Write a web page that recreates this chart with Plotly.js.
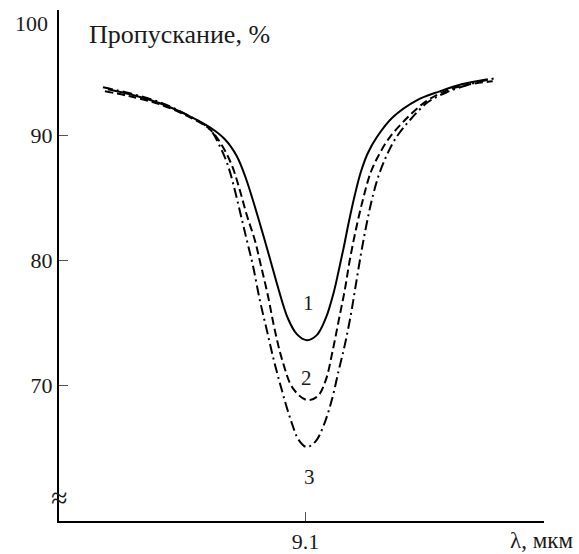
<!DOCTYPE html>
<html>
<head>
<meta charset="utf-8">
<script src="https://cdn.plot.ly/plotly-3.0.1.min.js"></script>
<style>html,body{margin:0;padding:0;background:#fff;}#chart{width:579px;height:554px;}</style>
</head>
<body>
<div id="chart"></div>
<script>
// Curve 1 (solid)
const x1 = [8.309,8.397,8.517,8.637,8.717,8.777,8.825,8.861,8.893,8.925,8.957,8.993,9.029,9.065,9.105,
            9.145,9.181,9.213,9.233,9.253,9.273,9.297,9.321,9.349,9.385,9.449,9.545,9.637,9.725,9.829];
const y1 = [93.68,93.28,92.56,91.52,90.64,89.68,88.32,86.56,84.56,82.4,80.16,77.6,75.36,74.08,73.6,
            74.0,75.36,77.44,79.2,81.04,83.04,85.2,87.04,88.56,89.84,91.44,92.8,93.52,94.08,94.48];
// Curve 2 (dashed)
const x2 = [8.297,8.397,8.517,8.637,8.717,8.765,8.805,8.837,8.865,8.897,8.921,8.949,8.977,9.009,9.049,9.105,
            9.149,9.181,9.209,9.233,9.257,9.277,9.301,9.329,9.361,9.397,9.437,9.497,9.577,9.657,9.757,9.849];
const y2 = [93.52,93.12,92.48,91.44,90.48,89.2,87.6,85.6,83.6,81.6,79.6,77.2,74.4,71.84,69.76,68.8,
            69.12,70.4,72.8,75.2,77.6,80.0,82.4,84.8,87.04,88.56,89.84,91.2,92.64,93.52,94.08,94.32];
// Curve 3 (dash-dot)
const x3 = [8.289,8.397,8.517,8.637,8.717,8.757,8.789,8.817,8.841,8.865,8.889,8.917,8.945,8.973,9.005,9.041,9.073,9.105,
            9.141,9.173,9.205,9.233,9.257,9.281,9.301,9.321,9.341,9.365,9.393,9.425,9.461,9.517,9.589,9.665,9.757,9.857];
const y3 = [93.84,93.36,92.64,91.52,90.48,89.12,87.6,85.6,83.6,81.6,79.6,76.8,74.4,72.0,69.6,67.2,65.6,65.04,
            65.52,66.8,68.8,71.2,73.2,75.6,78.0,80.4,82.56,84.8,86.8,88.4,89.76,91.2,92.64,93.44,94.08,94.56];

const curveLabels = ['1','2','3'];
const labelX = [9.113, 9.105, 9.117];
const labelY = [76.56, 70.56, 62.64];

const xTickVals = [9.1];
const xTickText = ['9.1'];
const yTickVals = [70, 80, 90, 100];
// the top label "100" sits slightly below its tick in the original, drawn separately
const yTickText = ['70', '80', '90', ''];
const topTickLabel = '100';

const yTitle = 'Пропускание, %';
const xTitle = 'λ, мкм';

const serif = 'Liberation Serif';
const ink = '#1a1a1a';

const mk = (x, y, dash) => ({
  x: x, y: y, type: 'scatter', mode: 'lines',
  line: {color: '#000', width: 2, dash: dash, shape: 'spline', smoothing: 1},
  hoverinfo: 'skip', showlegend: false
});

const data = [
  mk(x1, y1, 'solid'),
  mk(x2, y2, '8px,4px'),
  mk(x3, y3, '10px,4px,2px,4px')
];

const annotations = curveLabels.map((t, i) => ({
  x: labelX[i], y: labelY[i], xref: 'x', yref: 'y', text: t, showarrow: false,
  font: {family: serif, size: 21, color: ink}
}));
annotations.push({x: 0.0577, y: 0.953, xref: 'paper', yref: 'paper', text: yTitle, showarrow: false,
  xanchor: 'left', yanchor: 'middle', font: {family: serif, size: 26, color: ink}});
annotations.push({x: 1.064, y: -0.038, xref: 'paper', yref: 'paper', text: xTitle, showarrow: false,
  xanchor: 'right', yanchor: 'middle', font: {family: serif, size: 23, color: ink}});
annotations.push({x: 0, y: 0.0456, xref: 'paper', yref: 'paper', text: '≈', showarrow: false,
  xanchor: 'center', yanchor: 'middle', font: {family: serif, size: 30, color: ink}});
annotations.push({x: -0.018, y: 0.973, xref: 'paper', yref: 'paper', text: topTickLabel, showarrow: false,
  xanchor: 'right', yanchor: 'middle', font: {family: serif, size: 22, color: ink}});

const layout = {
  width: 579, height: 554,
  margin: {l: 59, r: 34.7, t: 10, b: 33},
  paper_bgcolor: '#fff', plot_bgcolor: '#fff',
  showlegend: false,
  font: {family: serif, color: ink},
  xaxis: {
    range: [8.1132, 10.0544], showgrid: false, zeroline: false,
    showline: true, linecolor: '#000', linewidth: 2,
    tickmode: 'array', tickvals: xTickVals, ticktext: xTickText,
    ticks: 'inside', ticklen: 9, tickwidth: 1, tickcolor: '#555',
    tickfont: {family: serif, size: 22, color: ink}
  },
  yaxis: {
    range: [59.12, 100.03], showgrid: false, zeroline: false,
    showline: true, linecolor: '#000', linewidth: 2,
    tickmode: 'array', tickvals: yTickVals, ticktext: yTickText,
    ticks: 'inside', ticklen: 9, tickwidth: 1, tickcolor: '#555',
    tickfont: {family: serif, size: 22, color: ink}
  },
  annotations: annotations
};

Plotly.newPlot('chart', data, layout, {displayModeBar: false, staticPlot: true});
</script>
</body>
</html>
